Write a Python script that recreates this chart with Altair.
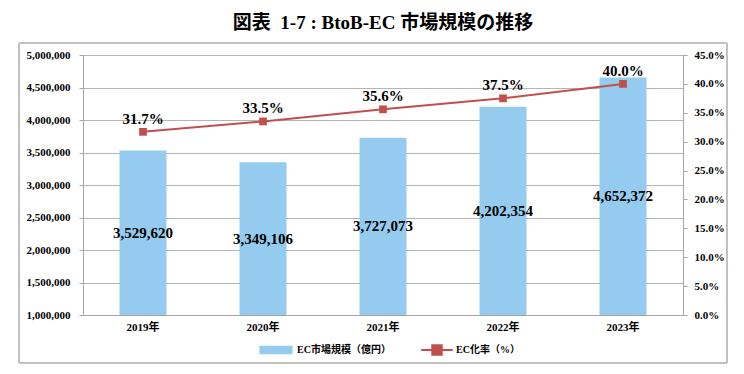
import altair as alt
import pandas as pd

years = ["2019年", "2020年", "2021年", "2022年", "2023年"]
market = [3529620, 3349106, 3727073, 4202354, 4652372]
rate = [0.317, 0.335, 0.356, 0.375, 0.400]

bar_name = "EC市場規模（億円）"
line_name = "EC化率（%）"

df = pd.DataFrame({"year": years, "market": market, "rate": rate})

FONT = "Liberation Serif, Noto Sans CJK JP"
BLUE = "#95CBEE"
RED = "#C0504D"
GRID = "#B4B4B4"

x_enc = alt.X("year:N", sort=years, title=None,
              scale=alt.Scale(paddingInner=0.61, paddingOuter=0.305),
              axis=alt.Axis(labelAngle=0, labelFont=FONT, labelFontSize=11,
                            labelFontWeight="bold", labelColor="black",
                            labelPadding=6, ticks=False, domainColor="#A6A6A6"))

left_scale = alt.Scale(domain=[1000000, 5000000], zero=False, nice=False)
right_scale = alt.Scale(domain=[0, 0.45], nice=False)

base = alt.Chart(df)

frame = base.mark_rect(fill=None, stroke="#BFBFBF", strokeWidth=1).encode(
    x=alt.value(-64), x2=alt.value(644), y=alt.value(-12), y2=alt.value(308)
)

bars = base.mark_bar(size=47).transform_calculate(s1=f"'{bar_name}'").encode(
    x=x_enc,
    y=alt.Y("market:Q", scale=left_scale, title=None,
            axis=alt.Axis(orient="left", values=list(range(1000000, 5000001, 500000)),
                          format=",d", labelFont=FONT, labelFontSize=11,
                          labelFontWeight="bold", labelColor="black",
                          tickSize=4, tickColor="#A6A6A6", domainColor="#A6A6A6",
                          labelPadding=9, grid=True, gridColor=GRID)),
    y2=alt.datum(1000000),
    color=alt.Color("s1:N", scale=alt.Scale(domain=[bar_name], range=[BLUE]),
                    legend=alt.Legend(orient="none", legendX=176, legendY=278,
                                      title=None, symbolType="M-1,-0.25H1V0.25H-1Z",
                                      symbolSize=1100, symbolStrokeWidth=0,
                                      labelFont=FONT, labelFontSize=10,
                                      labelFontWeight="bold", labelColor="black",
                                      labelOffset=4)),
)

bar_text = base.mark_text(font=FONT, fontSize=15, fontWeight="bold", color="black").transform_calculate(
    mid="(datum.market + 1000000) / 2"
).encode(
    x=alt.X("year:N", sort=years),
    y=alt.Y("mid:Q", scale=left_scale, axis=None),
    text=alt.Text("market:Q", format=",d"),
)

line = base.mark_line(strokeWidth=2).transform_calculate(s2=f"'{line_name}'").encode(
    x=alt.X("year:N", sort=years),
    y=alt.Y("rate:Q", scale=right_scale, title=None,
            axis=alt.Axis(orient="right", values=[i / 100 for i in range(0, 46, 5)],
                          format=".1%", labelFont=FONT, labelFontSize=11,
                          labelFontWeight="bold", labelColor="black",
                          tickSize=4, tickColor="#A6A6A6", domainColor="#A6A6A6",
                          labelPadding=7, grid=False)),
    color=alt.Color("s2:N", scale=alt.Scale(domain=[line_name], range=[RED]),
                    legend=alt.Legend(orient="none", legendX=337, legendY=278,
                                      title=None,
                                      symbolType="M-1,0H1M-0.3,-0.3H0.3V0.3H-0.3Z",
                                      symbolSize=1000, symbolStrokeWidth=2,
                                      symbolFillColor=RED, symbolStrokeColor=RED,
                                      labelFont=FONT, labelFontSize=10,
                                      labelFontWeight="bold", labelColor="black",
                                      labelOffset=2)),
)

points = base.mark_square(size=60, color=RED, opacity=1, filled=True).encode(
    x=alt.X("year:N", sort=years),
    y=alt.Y("rate:Q", scale=right_scale, axis=None),
)

line_text = base.mark_text(font=FONT, fontSize=15, fontWeight="bold", color="black", dy=-13).encode(
    x=alt.X("year:N", sort=years),
    y=alt.Y("rate:Q", scale=right_scale, axis=None),
    text=alt.Text("rate:Q", format=".1%"),
)

chart = alt.layer(frame, bars, bar_text, line, points, line_text).resolve_scale(
    y="independent", color="independent"
).properties(
    width=600,
    height=260,
    autosize=alt.AutoSizeParams(type="none"),
    padding={"left": 75, "top": 47, "right": 53, "bottom": 51},
    title=alt.TitleParams(
        "図表\u00a0\u00a01-7 : BtoB-EC 市場規模の推移",
        font=FONT, fontSize=19, fontWeight="bold", color="black",
        anchor="middle", offset=10,
    ),
).configure_view(stroke=None)

chart.save("out.html", embed_options={"renderer": "svg", "actions": False})
